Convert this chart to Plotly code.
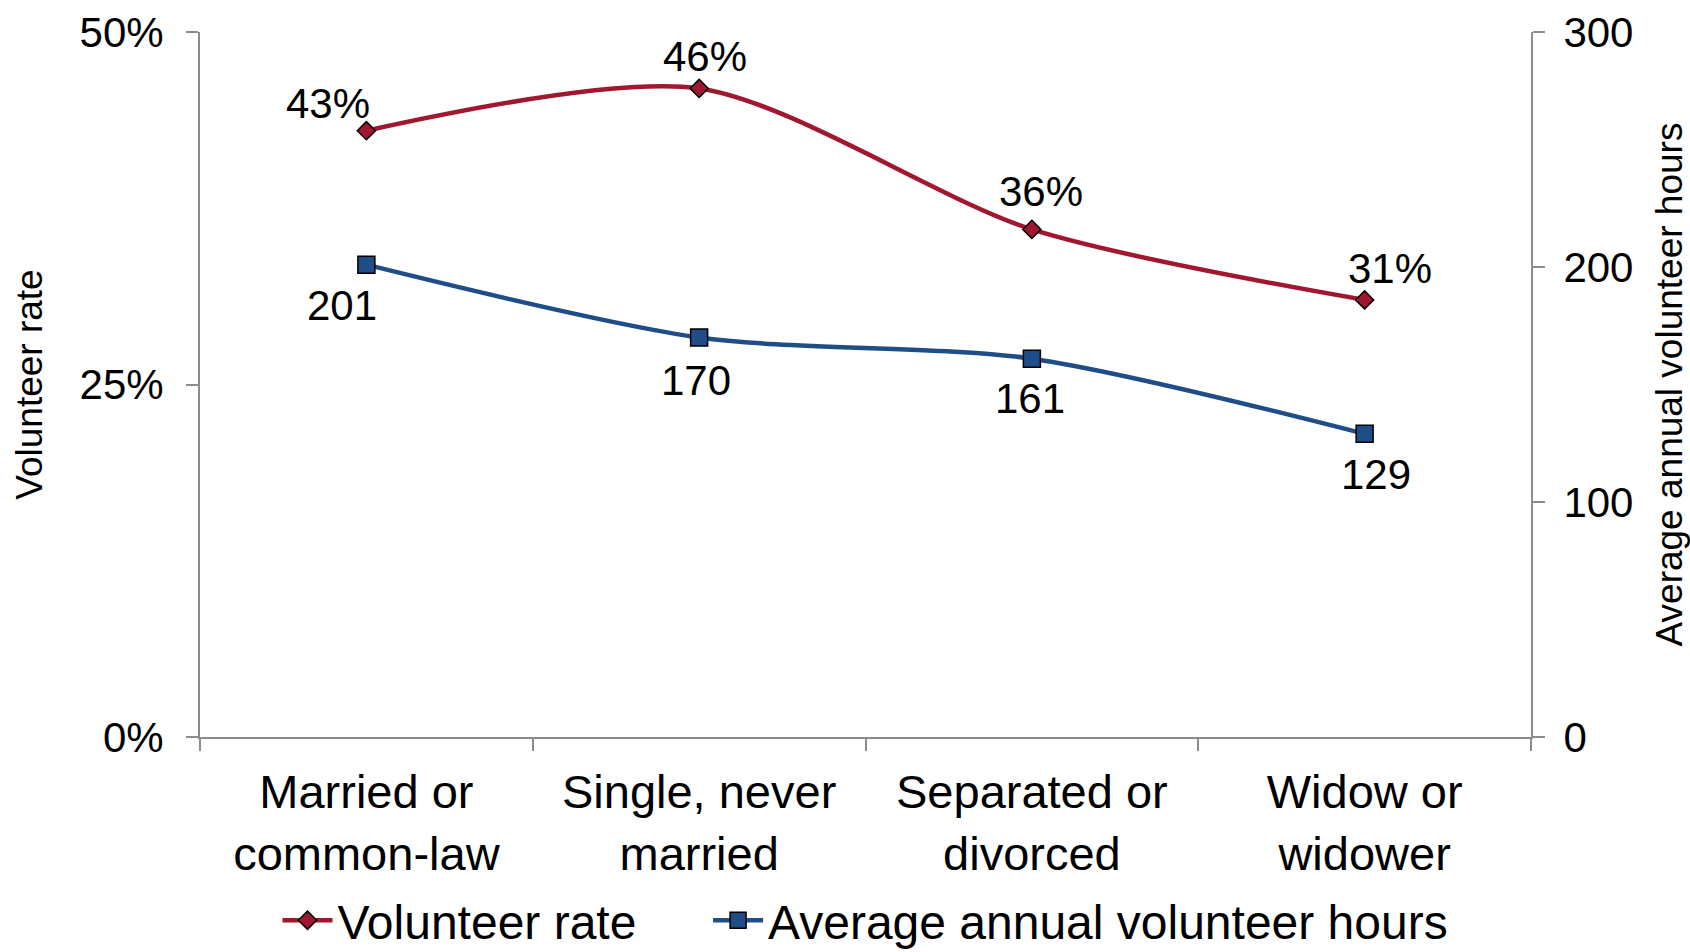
import plotly.graph_objects as go

categories = ["Married or<br>common-law", "Single, never<br>married", "Separated or<br>divorced", "Widow or<br>widower"]
volunteer_rate = [0.43, 0.46, 0.36, 0.31]
volunteer_hours = [201, 170, 161, 129]

rate_labels = ["43%", "46%", "36%", "31%"]
hours_labels = ["201", "170", "161", "129"]

red = "#A0172F"
blue = "#1F4D87"
font = "Liberation Sans, Arial, sans-serif"

fig = go.Figure()

# trailing no-break spaces give the wide gap between legend entries
fig.add_trace(go.Scatter(
    x=categories, y=volunteer_rate, name="Volunteer rate" + "\u00a0" * 5,
    mode="lines+markers",
    line=dict(color=red, width=4.5, shape="spline", smoothing=0.8),
    marker=dict(symbol="diamond", size=14, color=red, line=dict(color="black", width=1.5)),
    yaxis="y"))

fig.add_trace(go.Scatter(
    x=categories, y=volunteer_hours, name="Average annual volunteer hours",
    mode="lines+markers",
    line=dict(color=blue, width=4.5, shape="spline", smoothing=0.8),
    marker=dict(symbol="square", size=17, color=blue, line=dict(color="black", width=1.5)),
    yaxis="y2"))

# data labels, offsets in pixels
rate_shift = [(-38, 27), (6, 32), (9, 38), (25, 31)]
hours_shift = [(-24, -41), (-3, -43), (-2, -40), (11, -41)]
for i, c in enumerate(categories):
    fig.add_annotation(x=c, y=volunteer_rate[i], yref="y", text=rate_labels[i],
                       showarrow=False, xshift=rate_shift[i][0], yshift=rate_shift[i][1],
                       font=dict(size=42, color="black", family=font))
    fig.add_annotation(x=c, y=volunteer_hours[i], yref="y2", text=hours_labels[i],
                       showarrow=False, xshift=hours_shift[i][0], yshift=hours_shift[i][1],
                       font=dict(size=42, color="black", family=font))

axis_col = "#8C8C8C"
fig.update_layout(
    width=1690, height=952,
    margin=dict(l=200, r=159, t=32, b=215),
    paper_bgcolor="white", plot_bgcolor="white",
    font=dict(family=font, color="black"),
    showlegend=True,
    legend=dict(orientation="h", x=0.5, xanchor="center", xref="paper",
                y=0.033, yanchor="middle", yref="container",
                font=dict(size=48), itemwidth=50, traceorder="normal"),
    xaxis=dict(type="category", range=[-0.5, 3.5], showline=True, linecolor=axis_col, linewidth=2,
               ticks="outside", tickson="boundaries", ticklen=12, tickcolor=axis_col, tickwidth=2,
               showgrid=False, tickfont=dict(size=47), fixedrange=True, automargin=False,
               ticklabelstandoff=13),
    yaxis=dict(range=[0, 0.5], dtick=0.25, tickformat=".0%", showline=True, linecolor=axis_col,
               linewidth=2, ticks="outside", ticklen=12, tickcolor=axis_col, tickwidth=2,
               showgrid=False, zeroline=False, tickfont=dict(size=42), automargin=False,
               ticklabelstandoff=14,
               title=dict(text="Volunteer rate", font=dict(size=37), standoff=26)),
    yaxis2=dict(range=[0, 300], dtick=100, overlaying="y", side="right", showline=True,
                linecolor=axis_col, linewidth=2, ticks="outside", ticklen=12, tickcolor=axis_col,
                tickwidth=2, showgrid=False, zeroline=False, tickfont=dict(size=42),
                automargin=False, ticklabelstandoff=10,
                title=dict(text="Average annual volunteer hours", font=dict(size=37), standoff=32)),
    hovermode=False,
)

fig.write_html("out.html", config={"displayModeBar": False},
               post_script="document.body.style.margin='0';")
